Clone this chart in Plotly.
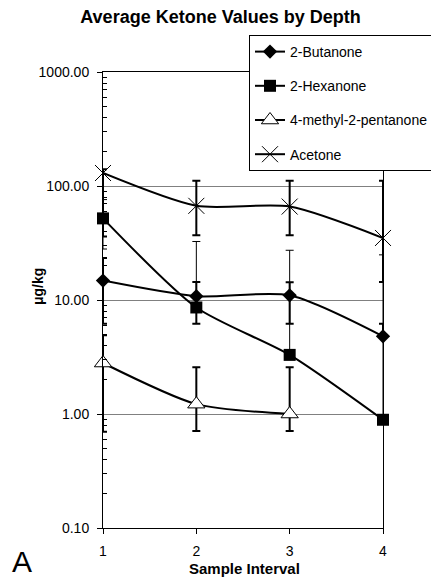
import plotly.graph_objects as go

# ---- data ----
intervals = [1, 2, 3, 4]
series_names = ["2-Butanone", "2-Hexanone", "4-methyl-2-pentanone", "Acetone"]
butanone = [14.8, 10.8, 11.0, 4.8]
hexanone = [52.0, 8.6, 3.3, 0.89]
methylpentanone = [2.8, 1.22, 1.0, None]
acetone = [130.0, 67.0, 66.0, 35.0]

butanone_err_plus = [8.6, 3.6, 3.3, 1.4]
butanone_err_minus = [8.6, 4.6, 4.8, 0.0]
hexanone_err_plus = [24.0, 24.0, 24.0, 24.0]
hexanone_err_minus = [24.0, 0.0, 0.0, 0.0]
methyl_err_plus = [2.1, 1.35, 1.57, 0.0]
methyl_err_minus = [2.1, 0.51, 0.29, 0.0]
acetone_err_plus = [10.0, 44.0, 45.0, 76.0]
acetone_err_minus = [94.0, 30.0, 29.0, 20.6]

y_tickvals = [0.1, 1, 10, 100, 1000]
y_ticktext = ["0.10", "1.00", "10.00", "100.00", "1000.00"]
x_tickvals = [1, 2, 3, 4]
x_ticktext = ["1", "2", "3", "4"]

FONT = "Arial, Liberation Sans, sans-serif"

# page body adds an 8px offset; figure is sized to fill the rest of the window
OFF = 8
W, H = 439 - OFF, 577 - OFF

minor_vals = []
for dec in [0.1, 1, 10, 100]:
    for m in range(2, 10):
        minor_vals.append(round(dec * m, 6))

fig = go.Figure()

values = [butanone, hexanone, methylpentanone, acetone]
plus = [butanone_err_plus, hexanone_err_plus, methyl_err_plus, acetone_err_plus]
minus = [butanone_err_minus, hexanone_err_minus, methyl_err_minus, acetone_err_minus]
err_thick = [2, 1, 2, 2]

# error bars first (drawn underneath markers)
for vals, p, m, th in zip(values, plus, minus, err_thick):
    fig.add_trace(go.Scatter(
        x=intervals, y=vals, mode="markers",
        marker=dict(size=1, opacity=0),
        error_y=dict(type="data", symmetric=False, array=p, arrayminus=m,
                     color="black", thickness=th, width=4),
        showlegend=False, hoverinfo="skip", cliponaxis=False,
    ))

markers = [
    dict(symbol="diamond", size=11, color="black"),
    dict(symbol="square", size=12, color="black"),
    dict(symbol="triangle-up", size=15, color="white", line=dict(color="black", width=1)),
    dict(symbol="x-thin-open", size=16, color="black", line=dict(color="black", width=1)),
]

for i, (name, vals, mk) in enumerate(zip(series_names, values, markers)):
    fig.add_trace(go.Scatter(
        x=intervals, y=vals, name=name, mode="lines+markers",
        line=dict(color="black", width=2, shape="spline", smoothing=0.7),
        marker=mk, cliponaxis=False, connectgaps=False,
        legendgroup=f"g{i}",
    ))

fig.update_layout(
    width=W, height=H,
    margin=dict(l=103 - OFF, r=56, t=72 - OFF, b=49, pad=0, autoexpand=False),
    paper_bgcolor="white", plot_bgcolor="white",
    font=dict(family=FONT, size=14, color="black"),
    title=dict(text="Average Ketone Values by Depth", x=(220.5 - OFF) / W, xanchor="center",
               xref="container", yref="container", y=1 - (17 - OFF) / H, yanchor="middle",
               font=dict(size=18, weight="bold", family=FONT, color="black")),
    showlegend=True,
    legend=dict(x=(249 - OFF) / W, y=1 - (35 - OFF) / H, xref="container", yref="container",
                xanchor="left", yanchor="top",
                bordercolor="black", borderwidth=1, bgcolor="white",
                font=dict(size=14, family=FONT), traceorder="grouped",
                tracegroupgap=13),
    xaxis=dict(range=[1, 4], tickmode="array", tickvals=x_tickvals, ticktext=x_ticktext,
               ticks="outside", ticklen=5, tickcolor="black", showline=True,
               linecolor="black", linewidth=1, mirror=True, showgrid=False,
               zeroline=False, ticklabelstandoff=5, tickfont=dict(size=14),
               automargin=False),
    yaxis=dict(type="log", range=[-1, 3], tickmode="array", tickvals=y_tickvals,
               ticktext=y_ticktext, ticks="outside", ticklen=5, tickcolor="black",
               showline=True, linecolor="black", linewidth=1, mirror=True,
               showgrid=True, gridcolor="#808080", gridwidth=1, zeroline=False,
               ticklabelstandoff=5, tickfont=dict(size=14), automargin=False,
               minor=dict(tickmode="array", tickvals=minor_vals, ticks="inside",
                          ticklen=4, tickcolor="black", showgrid=False)),
    annotations=[
        dict(text="μg/kg", x=(38 - 103) / 280, y=(528 - 287) / 456, xref="paper",
             yref="paper", textangle=-90, showarrow=False, xanchor="center",
             yanchor="middle", font=dict(size=14, weight="bold", family=FONT)),
        dict(text="Sample Interval", x=(244.5 - 103) / 280, y=(528 - 568) / 456,
             xref="paper", yref="paper", showarrow=False, xanchor="center",
             yanchor="middle", font=dict(size=15, weight="bold", family=FONT)),
        dict(text="A", x=(10 - 103) / 280, y=(528 - 561) / 456, xref="paper",
             yref="paper", showarrow=False, xanchor="left", yanchor="middle",
             font=dict(size=30, family=FONT)),
    ],
)

fig.write_html("out.html")
